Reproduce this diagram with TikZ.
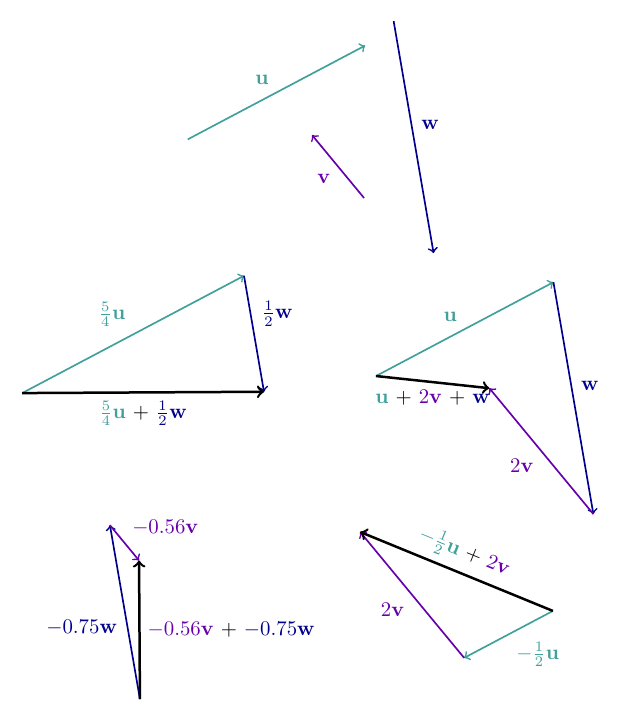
\documentclass[tikz,border=0pt]{standalone}
\usepackage{amsmath}
\usepackage{amssymb}
\usepackage{xcolor}
\usetikzlibrary{calc}

\definecolor{ucol}{RGB}{64,160,155}
\definecolor{vcol}{RGB}{102,0,170}
\definecolor{wcol}{RGB}{0,0,140}

\tikzset{
    vecu/.style={->, ucol, thick},
    vecv/.style={->, vcol, thick},
    vecw/.style={->, wcol, thick},
    vecsum/.style={->, black, very thick},
}

\begin{document}
\begin{tikzpicture}[scale=0.96]
                \useasboundingbox (0,0) rectangle (11.02,12.71);
                \coordinate (u) at (3.12,1.65);
                \coordinate (v) at (-0.914,1.107);
                \coordinate (w) at (0.703,-4.077);

                % u, v and w
                \coordinate (u0) at (3.30,10.26);
                \coordinate (u1) at ($(u0)+(u)$);
                \coordinate (v0) at (6.40,9.23);
                \coordinate (v1) at ($(v0)+(v)$);
                \coordinate (w0) at (6.92,12.34);
                \coordinate (w1) at ($(w0)+(w)$);
                \draw[vecu] (u0) -- node[midway, above left] (lu) {$\mathbf{u}$} (u1);
                \draw[vecv] (v0) -- node[midway, below left] (lv) {$\mathbf{v}$} (v1);
                \draw[vecw] (w0) -- node[midway, above right] (lw) {$\mathbf{w}$} (w1);

                % 5/4 u + 1/2 w
                \coordinate (a0) at (0.39,5.80);
                \coordinate (a1) at ($(a0)+1.25*(u)$);
                \coordinate (a2) at ($(a1)+0.5*(w)$);
                \draw[vecu] (a0) -- node[midway, above left] (la1) {$\frac{5}{4}\mathbf{u}$} (a1);
                \draw[vecw] (a1) -- node[midway, above right] (la2) {$\frac{1}{2}\mathbf{w}$} (a2);
                \draw[vecsum] (a0) -- node[midway, below] (la)
                    {{\color{ucol}$\frac{5}{4}\mathbf{u}$} + {\color{wcol}$\frac{1}{2}\mathbf{w}$}} (a2);

                % u + 2v + w
                \coordinate (b0) at (6.61,6.10);
                \coordinate (b1) at ($(b0)+(u)$);
                \coordinate (b2) at ($(b1)+(w)$);
                \coordinate (b3) at ($(b2)+2*(v)$);
                \draw[vecu] (b0) -- node[midway, above left] (lb1) {$\mathbf{u}$} (b1);
                \draw[vecw] (b1) -- node[midway, above right] (lb2) {$\mathbf{w}$} (b2);
                \draw[vecv] (b2) -- node[midway, below left] (lb3) {$2\mathbf{v}$} (b3);
                \draw[vecsum] (b0) -- node[midway, below] (lb)
                    {{\color{ucol}$\mathbf{u}$} + {\color{vcol}$2\mathbf{v}$} + {\color{wcol}$\mathbf{w}$}} (b3);

                % -0.56 v + -0.75 w
                \coordinate (c0) at (2.46,0.42);
                \coordinate (c1) at ($(c0)-0.75*(w)$);
                \coordinate (c2) at ($(c1)-0.56*(v)$);
                \draw[vecw] (c0) -- node[midway, below left] (lc1) {$-0.75\mathbf{w}$} (c1);
                \draw[vecv] (c1) -- node[midway, above right] (lc2) {$-0.56\mathbf{v}$} (c2);
                \draw[vecsum] (c0) -- node[midway, right] (lc)
                    {{\color{vcol}$-0.56\mathbf{v}$} + {\color{wcol}$-0.75\mathbf{w}$}} (c2);

                % -1/2 u + 2v
                \coordinate (d0) at (9.72,1.97);
                \coordinate (d1) at ($(d0)-0.5*(u)$);
                \coordinate (d2) at ($(d1)+2*(v)$);
                \draw[vecu] (d0) -- node[midway, below right] (ld1) {$-\frac{1}{2}\mathbf{u}$} (d1);
                \draw[vecv] (d1) -- node[midway, below left] (ld2) {$2\mathbf{v}$} (d2);
                \draw[vecsum] (d0) -- node[midway, sloped, above] (ld)
                    {{\color{ucol}$-\frac{1}{2}\mathbf{u}$} + {\color{vcol}$2\mathbf{v}$}} (d2);
            \end{tikzpicture}
\end{document}
